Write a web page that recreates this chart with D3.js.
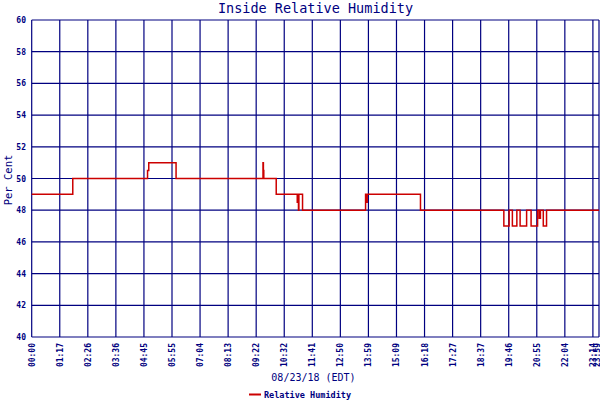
<!DOCTYPE html>
<html>
<head>
<meta charset="utf-8">
<script src="https://cdn.jsdelivr.net/npm/d3@7"></script>
<style>
html,body{margin:0;padding:0;background:#fff;}
svg{display:block;}
</style>
</head>
<body>
<svg id="chart" width="600" height="400"></svg>
<script>
// ---- data ----
const tickLabels = ["00:00","01:17","02:26","03:36","04:45","05:55","07:04","08:13","09:22","10:32",
  "11:41","12:50","13:59","15:09","16:18","17:27","18:37","19:46","20:55","22:04","23:14","23:59"];
const yTicks = [40,42,44,46,48,50,52,54,56,58,60];
// step samples: minutes after midnight, relative humidity (%)
const times = [0,109,294,297,365,579,580,581,612,664,665,667,668,677,832,834,836,968,
  1174,1187,1195,1206,1214,1230,1241,1257,1261,1264,1271,1279,1439];
const values = [49,50,50.5,51,50,51,50.5,50,49,48.5,49,48,49,48,49,48.5,49,48,
  47,48,47,48,47,48,47,48,47.5,48,47,48,48];

const navy = "#000080", red = "#cc0000";
const svg = d3.select("#chart");
const plotL = 31.7, step = 28.06, plotR = 599, plotT = 20, plotB = 337;

const toMin = s => { const [h,m] = s.split(":").map(Number); return h*60+m; };
const tickMins = tickLabels.map(toMin);
const rangePx = tickMins.map((d,i) => i < tickMins.length-1 ? plotL + step*i : plotR);
const x = d3.scaleLinear().domain(tickMins).range(rangePx);
const y = d3.scaleLinear().domain([40,60]).range([plotB, plotT]);

// grid
const g = svg.append("g");
g.selectAll("line.h").data(yTicks).join("line")
  .attr("x1", plotL).attr("x2", plotR)
  .attr("y1", d => y(d)).attr("y2", d => y(d))
  .attr("stroke", navy).attr("stroke-width", 1.2);
g.selectAll("line.v").data(tickMins).join("line")
  .attr("x1", d => x(d)).attr("x2", d => x(d))
  .attr("y1", plotT).attr("y2", plotB)
  .attr("stroke", navy).attr("stroke-width", 1.2);

// y tick labels
svg.append("g").selectAll("text").data(yTicks).join("text")
  .attr("x", 26).attr("y", d => y(d) + 3)
  .attr("text-anchor", "end")
  .attr("font-family", "DejaVu Sans Mono").attr("font-weight", "bold").attr("font-size", 8)
  .attr("fill", navy).text(d => d);

// x tick labels
svg.append("g").selectAll("text").data(tickMins).join("text")
  .attr("transform", (d,i) => `translate(${Math.min(x(d)+3, 599.5)},343) rotate(-90)`)
  .attr("text-anchor", "end")
  .attr("font-family", "DejaVu Sans Mono").attr("font-weight", "bold").attr("font-size", 8)
  .attr("fill", navy).text((d,i) => tickLabels[i]);

// data line
const pts = times.map((t,i) => [t, values[i]]);
const line = d3.line().x(d => x(d[0])).y(d => y(d[1])).curve(d3.curveStepAfter);
svg.append("path").datum(pts)
  .attr("d", line).attr("fill", "none")
  .attr("stroke", red).attr("stroke-width", 1.5);

// title
svg.append("text").attr("x", 315.5).attr("y", 13).attr("text-anchor", "middle")
  .attr("font-family", "DejaVu Sans Mono").attr("font-size", 13.5)
  .attr("fill", navy).text("Inside Relative Humidity");

// y axis title
svg.append("text").attr("transform", "translate(12,180) rotate(-90)")
  .attr("text-anchor", "middle")
  .attr("font-family", "DejaVu Sans Mono").attr("font-size", 10.5)
  .attr("fill", navy).text("Per Cent");

// x axis title
svg.append("text").attr("x", 313.5).attr("y", 381).attr("text-anchor", "middle")
  .attr("font-family", "DejaVu Sans Mono").attr("font-size", 10)
  .attr("fill", navy).text("08/23/18 (EDT)");

// legend
svg.append("line").attr("x1", 249).attr("x2", 261).attr("y1", 394.5).attr("y2", 394.5)
  .attr("stroke", red).attr("stroke-width", 2);
svg.append("text").attr("x", 264).attr("y", 398)
  .attr("font-family", "DejaVu Sans Mono").attr("font-weight", "bold").attr("font-size", 8.5)
  .attr("fill", navy).text("Relative Humidity");
</script>
</body>
</html>
